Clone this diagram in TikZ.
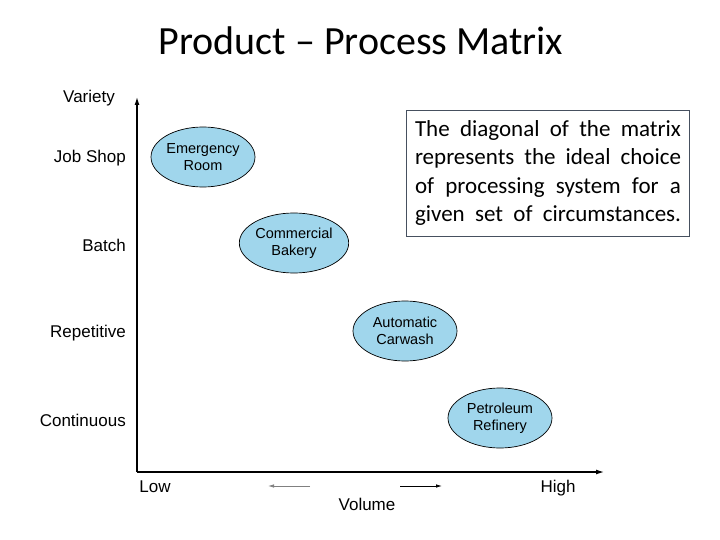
\documentclass[tikz,border=0pt]{standalone}
\usepackage{fontspec}
\setmainfont{Liberation Sans}
\newfontfamily\cali{Carlito}
\usetikzlibrary{arrows.meta,shapes.geometric}
\definecolor{ellfill}{RGB}{160,214,236}
\definecolor{boxline}{RGB}{70,80,95}
\tikzset{
  procell/.style={ellipse,draw=black,line width=0.7pt,fill=ellfill,minimum width=104pt,minimum height=60pt,inner sep=0pt,align=center,font=\fontsize{14.5}{17}\selectfont},
  axlabel/.style={font=\fontsize{17}{20}\selectfont,inner sep=0pt},
  ylabel/.style={axlabel,anchor=east},
  xlabel/.style={axlabel,anchor=base},
  axis/.style={line width=1.2pt,-{Latex[length=8pt,width=5pt]}},
}
\begin{document}
\begin{tikzpicture}[x=1pt,y=-1pt]
\useasboundingbox[fill=white] (0,0) rectangle (720,540);
\node[font=\cali\fontsize{40}{44}\selectfont,inner sep=0pt] (title) at (361,41) {Product – Process Matrix};
\coordinate (origin) at (137,472);
\coordinate (ytop) at (137,97);
\coordinate (xend) at (604,472);
\draw[axis] (origin) -- (ytop);
\draw[axis] (origin) -- (xend);
\node[axlabel] (variety) at (89,98) {Variety};
\node[ylabel] (job) at (126,158) {Job Shop};
\node[ylabel] (batch) at (126,245) {Batch};
\node[ylabel] (rep) at (126,333) {Repetitive};
\node[ylabel] (cont) at (126,420) {Continuous};
\node[xlabel] (low) at (155,492) {Low};
\node[xlabel] (high) at (558,492) {High};
\node[xlabel] (vol) at (367,510) {Volume};
\coordinate (la1) at (310,486); \coordinate (la2) at (268,486);
\coordinate (ra1) at (400,486); \coordinate (ra2) at (442,486);
\draw[line width=0.8pt,gray,-{Latex[length=6pt,width=3.5pt]}] (la1) -- (la2);
\draw[line width=0.8pt,-{Latex[length=6pt,width=3.5pt]}] (ra1) -- (ra2);
\node[procell] (er) at (203,157) {Emergency\\Room};
\node[procell] (cb) at (294,243) {Commercial\\Bakery};
\node[procell] (ac) at (405,331) {Automatic\\Carwash};
\node[procell] (pr) at (500,418) {Petroleum\\Refinery};
\node[draw=boxline,line width=0.9pt,inner sep=0pt,minimum width=283pt,minimum height=126pt,font=\cali\fontsize{23}{28.5}\selectfont,align=left] (note) at (548,173) {%
\makebox[266pt][s]{The diagonal of the matrix}\\
\makebox[266pt][s]{represents the ideal choice}\\
\makebox[266pt][s]{of processing system for a}\\
\makebox[266pt][s]{given set of circumstances.}};
\end{tikzpicture}
\end{document}
